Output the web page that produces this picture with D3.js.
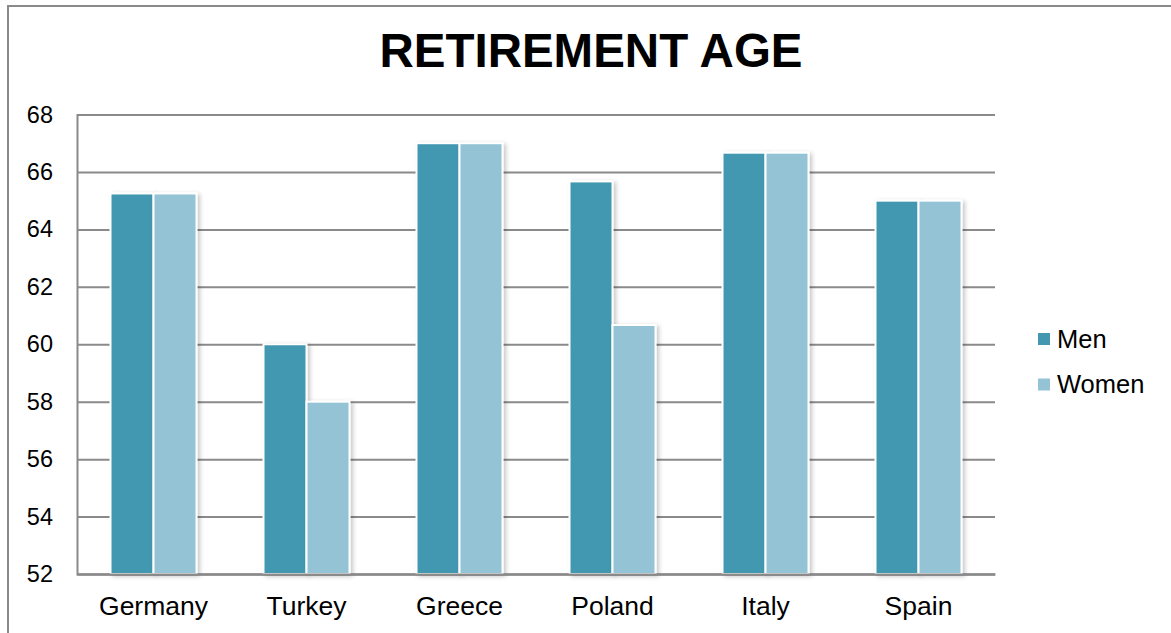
<!DOCTYPE html>
<html>
<head>
<meta charset="utf-8">
<script src="https://cdn.jsdelivr.net/npm/d3@7/dist/d3.min.js"></script>
<style>
  html, body { margin: 0; padding: 0; background: #fff; }
  svg { display: block; font-family: "Liberation Sans", Arial, sans-serif; }
</style>
</head>
<body>
<svg id="chart" width="1171" height="633"></svg>
<script>
// Retirement age by country, men vs women
const categories = ["Germany", "Turkey", "Greece", "Poland", "Italy", "Spain"];
const seriesNames = ["Men", "Women"];
const menValues = [65.25, 60, 67, 65.67, 66.67, 65];
const womenValues = [65.25, 58, 67, 60.67, 66.67, 65];
const yTicks = [52, 54, 56, 58, 60, 62, 64, 66, 68];
const seriesColors = ["#4398b0", "#93c3d5"];

const svg = d3.select("#chart");
const W = 1171, H = 633;
const plot = { left: 77, right: 995, top: 114.5, bottom: 574 };

// Outer frame (only top and left edges fall inside the view)
svg.append("path")
  .attr("d", `M8,${H} L8,6 L${W},6`)
  .attr("fill", "none")
  .attr("stroke", "#8a8a8a")
  .attr("stroke-width", 2);

// Title
svg.append("text")
  .attr("x", 591).attr("y", 67)
  .attr("text-anchor", "middle")
  .attr("font-weight", "bold")
  .attr("font-size", 47.5)
  .attr("fill", "#000")
  .text("RETIREMENT AGE");

const y = d3.scaleLinear().domain([52, 68]).range([plot.bottom, plot.top]);
const x0 = d3.scaleBand().domain(categories).range([plot.left, plot.right]).padding(0);
const groupW = x0.bandwidth() * 0.562;
const x1 = d3.scaleBand().domain(seriesNames).range([0, groupW]).padding(0);

// Shadow for bars
const defs = svg.append("defs");
const f = defs.append("filter").attr("id", "barShadow")
  .attr("x", "-20%").attr("y", "-5%").attr("width", "150%").attr("height", "115%");
f.append("feDropShadow")
  .attr("dx", 2.5).attr("dy", 1.5).attr("stdDeviation", 2)
  .attr("flood-color", "#000").attr("flood-opacity", 0.22);

// Gridlines and value axis
const yAxis = d3.axisLeft(y).tickValues(yTicks).tickSize(-(plot.right - plot.left)).tickFormat(d3.format("d")).tickPadding(24);
const gy = svg.append("g").attr("transform", `translate(${plot.left},0)`).call(yAxis);
gy.select(".domain").attr("stroke", "#8a8a8a").attr("stroke-width", 2);
gy.selectAll(".tick line").attr("stroke", "#8a8a8a").attr("stroke-width", 2);
gy.selectAll(".tick text")
  .attr("font-size", 23.5)
  .attr("fill", "#000")
  .attr("font-family", "Liberation Sans, Arial, sans-serif");

// Bars
const rows = categories.map((c, i) => ({ cat: c, vals: [menValues[i], womenValues[i]] }));
const groups = svg.append("g").selectAll("g").data(rows).join("g")
  .attr("transform", d => `translate(${x0(d.cat) + (x0.bandwidth() - groupW) / 2},0)`);
groups.selectAll("rect")
  .data(d => d.vals.map((v, j) => ({ key: seriesNames[j], v, j })))
  .join("rect")
  .attr("x", d => x1(d.key))
  .attr("y", d => y(d.v))
  .attr("width", x1.bandwidth())
  .attr("height", d => y(52) - y(d.v))
  .attr("fill", d => seriesColors[d.j])
  .attr("stroke", "#fff")
  .attr("stroke-width", 2)
  .attr("filter", "url(#barShadow)");

// Category axis
const xAxis = d3.axisBottom(x0).tickSize(0).tickPadding(22);
const gx = svg.append("g").attr("transform", `translate(0,${plot.bottom})`).call(xAxis);
gx.select(".domain").attr("stroke", "#8a8a8a").attr("stroke-width", 2);
gx.selectAll(".tick text")
  .attr("font-size", 26.5)
  .attr("fill", "#000")
  .attr("font-family", "Liberation Sans, Arial, sans-serif");

// Legend
const legend = svg.append("g").selectAll("g").data(seriesNames).join("g")
  .attr("transform", (d, i) => `translate(1038,${333 + i * 45.5})`);
legend.append("rect")
  .attr("width", 12).attr("height", 12)
  .attr("fill", (d, i) => seriesColors[i]);
legend.append("text")
  .attr("x", 19).attr("y", 14.5)
  .attr("font-size", 25.5)
  .attr("fill", "#000")
  .text(d => d);
</script>
</body>
</html>
